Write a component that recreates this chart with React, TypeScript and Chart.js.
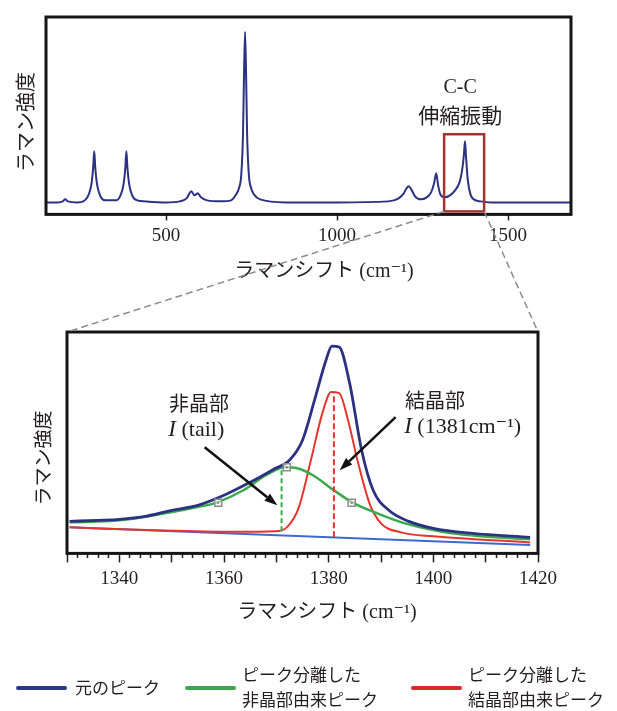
import { useEffect, useRef } from 'react';
import { Chart, registerables } from 'chart.js';

Chart.register(...registerables);

const SERIF = '"Liberation Serif", "DejaVu Serif", "Noto Sans CJK JP", serif';
const JP = '"Noto Sans CJK JP", "Liberation Serif", sans-serif';
const INK = '#231f20';
const NAVY = '#2c3282';
const GREEN = '#3aab4a';
const RED = '#e5352c';
const BLUE = '#3c6ad0';
const GREY = '#8c8c8c';

// ---- Overview spectrum (Raman shift in cm-1, relative intensity) ----
const overviewShift = [
  149, 185, 198, 205, 213, 240, 258, 270, 278, 283, 287, 290, 293, 297, 302, 310,
  322, 345, 356, 364, 372, 377, 381, 384, 387, 391, 396, 404, 416, 440, 500, 540,
  560, 574, 583, 593, 602, 620, 660, 690, 705, 714, 720, 725, 728, 731, 734, 737,
  742, 748, 757, 775, 850, 1000, 1150, 1180, 1195, 1203, 1210, 1217, 1228, 1245,
  1262, 1275, 1283, 1290, 1295, 1302, 1315, 1330, 1345, 1358, 1366, 1371, 1374,
  1377, 1382, 1390, 1400, 1420, 1450, 1684,
];
const overviewIntensity = [
  12, 12, 13, 15, 13, 12, 13, 17, 24, 33, 47, 63, 47, 33, 24, 17,
  14, 14, 14, 17, 24, 33, 47, 63, 47, 33, 24, 17, 14, 13, 12, 13,
  16, 23, 19, 21, 17, 14, 13, 14, 20, 27, 40, 80, 140, 182, 140, 80,
  40, 27, 20, 15, 12, 12, 13, 16, 21, 26, 28, 25, 18, 15,
  17, 22, 30, 41, 30, 20, 17, 19, 24, 32, 45, 60, 73,
  58, 35, 20, 15, 13, 12, 12,
];
const overviewRange = [149, 1684];
const overviewTicks = [500, 1000, 1500];
// C-C stretching window marked on the overview
const ccWindowShift = [1313, 1430];
const ccWindowIntensity = [3, 80];
const ccLabelShift = 1360;

// ---- C-C band detail ----
const detailRange = [1330, 1420];
const detailLabelTicks = [1340, 1360, 1380, 1400, 1420];

const measuredShift = [
  1330.5, 1336, 1340, 1345, 1350, 1355, 1360, 1365, 1369.5, 1372.5, 1375, 1377.3,
  1379.5, 1380.6, 1382, 1384, 1386.3, 1388.5, 1391.5, 1395.3, 1400, 1407.5, 1418.5,
];
const measuredIntensity = [
  31, 32, 33, 36, 42, 47, 57, 70, 83, 92, 112, 152,
  192, 206, 205, 169, 102, 62, 42, 31, 24, 19, 15,
];

const amorphousShift = [
  1330.5, 1340, 1348.7, 1354.7, 1358.7, 1363.7, 1368, 1371.6, 1374, 1377, 1381,
  1384.5, 1389.3, 1394.6, 1403.6, 1418.5,
];
const amorphousIntensity = [
  30, 32, 39, 45, 50, 62, 77, 85, 84, 77, 62,
  50, 39, 29, 19, 13,
];

const crystallineShift = [
  1330.5, 1347, 1362, 1369.7, 1372, 1374.3, 1376.6, 1378.8, 1380.5, 1382, 1383.7,
  1385.5, 1387.8, 1390, 1393.8, 1400, 1418.5,
];
const crystallineIntensity = [
  25, 22, 20.5, 21, 25, 45, 92, 139, 160, 159, 132,
  92, 49, 29, 20, 16, 10,
];

const baselineShift = [1330.5, 1418.5];
const baselineIntensity = [25, 7.5];

// I(tail) and I(1381 cm-1) read-outs
const tailShift = 1371;
const tailLevels = [21, 85];
const peakShift = 1381;
const peakLevels = [15, 160];

// fit control points on the amorphous component
const fitMarkerShift = [1358.9, 1372, 1384.4];
const fitMarkerIntensity = [49.5, 85, 49.5];

// arrow tails / heads in (shift, intensity)
const tailArrow = [[1356.3, 105], [1370.2, 47]];
const peakArrow = [[1392.8, 135], [1382.1, 82]];

const seriesLabels = ['元のピーク', 'ピーク分離した\n非晶部由来ピーク', 'ピーク分離した\n結晶部由来ピーク'];
const seriesColors = ['#2b3788', '#3ea650', '#d72a2f'];

const pts = (xs: number[], ys: number[]) => xs.map((x, i) => ({ x, y: ys[i] }));

function drawMixed(ctx: CanvasRenderingContext2D, parts: [string, string][], cx: number, cy: number) {
  let total = 0;
  const widths = parts.map(([t, f]) => {
    ctx.font = f;
    const w = ctx.measureText(t).width;
    total += w;
    return w;
  });
  let x = cx - total / 2;
  ctx.textAlign = 'left';
  parts.forEach(([t, f], i) => {
    ctx.font = f;
    ctx.fillText(t, x, cy);
    x += widths[i];
  });
  ctx.textAlign = 'center';
}

function drawArrow(ctx: CanvasRenderingContext2D, x1: number, y1: number, x2: number, y2: number) {
  const ang = Math.atan2(y2 - y1, x2 - x1);
  const head = 13;
  const half = 4.5;
  const bx = x2 - head * Math.cos(ang);
  const by = y2 - head * Math.sin(ang);
  ctx.strokeStyle = '#111';
  ctx.fillStyle = '#111';
  ctx.lineWidth = 2.5;
  ctx.beginPath();
  ctx.moveTo(x1, y1);
  ctx.lineTo(bx, by);
  ctx.stroke();
  ctx.beginPath();
  ctx.moveTo(x2, y2);
  ctx.lineTo(bx + half * Math.sin(ang), by - half * Math.cos(ang));
  ctx.lineTo(bx - half * Math.sin(ang), by + half * Math.cos(ang));
  ctx.closePath();
  ctx.fill();
}

function frame(chart: Chart) {
  const { ctx, chartArea: a } = chart;
  ctx.strokeStyle = '#151515';
  ctx.lineWidth = 3;
  ctx.strokeRect(a.left, a.top, a.right - a.left, a.bottom - a.top);
}

function verticalTitle(ctx: CanvasRenderingContext2D, text: string, x: number, y: number, font: string) {
  ctx.save();
  ctx.translate(x, y);
  ctx.rotate(-Math.PI / 2);
  ctx.font = font;
  ctx.fillStyle = INK;
  ctx.textAlign = 'center';
  ctx.textBaseline = 'middle';
  ctx.fillText(text, 0, 0);
  ctx.restore();
}

const overviewDecor = {
  id: 'overviewDecor',
  afterDraw(chart: Chart) {
    const { ctx } = chart;
    const x = chart.scales.x;
    const y = chart.scales.y;
    ctx.save();
    frame(chart);
    const x0 = x.getPixelForValue(ccWindowShift[0]);
    const x1 = x.getPixelForValue(ccWindowShift[1]);
    const y0 = y.getPixelForValue(ccWindowIntensity[1]);
    const y1 = y.getPixelForValue(ccWindowIntensity[0]);
    ctx.strokeStyle = '#a3332f';
    ctx.lineWidth = 2.5;
    ctx.strokeRect(x0, y0, x1 - x0, y1 - y0);

    const cx = x.getPixelForValue(ccLabelShift);
    ctx.fillStyle = INK;
    ctx.textAlign = 'center';
    ctx.textBaseline = 'middle';
    ctx.font = `20px ${SERIF}`;
    ctx.fillText('C-C', cx, 88);
    ctx.font = `21px ${JP}`;
    ctx.fillText('伸縮振動', cx, 115);

    ctx.font = `20px ${SERIF}`;
    ctx.fillText('ラマンシフト (cm⁻¹)', 324, 272);
    ctx.restore();
    verticalTitle(ctx, 'ラマン強度', 25, 122, `20px ${JP}`);
  },
};

function makeDetailDecor(overview: Chart) {
  return {
    id: 'detailDecor',
    afterDraw(chart: Chart) {
      const { ctx, chartArea: a } = chart;
      const x = chart.scales.x;
      const y = chart.scales.y;
      ctx.save();
      frame(chart);

      // zoom connectors from the overview window to this panel
      const ox = overview.scales.x;
      const oy = overview.scales.y;
      const wl = ox.getPixelForValue(ccWindowShift[0]);
      const wr = ox.getPixelForValue(ccWindowShift[1]);
      const wb = oy.getPixelForValue(ccWindowIntensity[0]);
      ctx.strokeStyle = GREY;
      ctx.lineWidth = 1.5;
      ctx.setLineDash([7, 4]);
      ctx.beginPath();
      ctx.moveTo(wl, wb);
      ctx.lineTo(a.left, a.top);
      ctx.moveTo(wr, wb);
      ctx.lineTo(a.right, a.top);
      ctx.stroke();
      ctx.setLineDash([]);

      drawArrow(ctx, x.getPixelForValue(tailArrow[0][0]), y.getPixelForValue(tailArrow[0][1]),
        x.getPixelForValue(tailArrow[1][0]), y.getPixelForValue(tailArrow[1][1]));
      drawArrow(ctx, x.getPixelForValue(peakArrow[0][0]), y.getPixelForValue(peakArrow[0][1]),
        x.getPixelForValue(peakArrow[1][0]), y.getPixelForValue(peakArrow[1][1]));

      ctx.fillStyle = INK;
      ctx.textAlign = 'center';
      ctx.textBaseline = 'middle';
      ctx.font = `20px ${JP}`;
      ctx.fillText('非晶部', x.getPixelForValue(1355.2), y.getPixelForValue(149));
      ctx.fillText('結晶部', x.getPixelForValue(1400.3), y.getPixelForValue(152));
      drawMixed(ctx, [['I', `italic 23px ${SERIF}`], [' (tail)', `22px ${SERIF}`]],
        x.getPixelForValue(1354.7), y.getPixelForValue(122));
      drawMixed(ctx, [['I', `italic 23px ${SERIF}`], [' (1381cm⁻¹)', `22px ${SERIF}`]],
        x.getPixelForValue(1405.6), y.getPixelForValue(125));

      ctx.font = `20px ${SERIF}`;
      ctx.fillText('ラマンシフト (cm⁻¹)', 327, 613);

      // legend
      const lx = [16, 185, 411];
      const ly = 688;
      seriesLabels.forEach((label, i) => {
        ctx.strokeStyle = seriesColors[i];
        ctx.lineWidth = 4;
        ctx.lineCap = 'round';
        ctx.beginPath();
        ctx.moveTo(lx[i] + 2, ly);
        ctx.lineTo(lx[i] + 49, ly);
        ctx.stroke();
        ctx.fillStyle = INK;
        ctx.textAlign = 'left';
        ctx.font = `17px ${JP}`;
        const lines = label.split('\n');
        const tx = lx[i] + (lines.length > 1 ? 57 : 59);
        lines.forEach((ln, k) => {
          const ty = lines.length > 1 ? ly - 13 + k * 25 : ly;
          ctx.fillText(ln, tx, ty);
        });
      });
      ctx.restore();
      verticalTitle(ctx, 'ラマン強度', 43, 458, `19px ${JP}`);
    },
  };
}

export default function App() {
  const topRef = useRef<HTMLCanvasElement>(null);
  const bottomRef = useRef<HTMLCanvasElement>(null);

  useEffect(() => {
    const overview = new Chart(topRef.current!, {
      type: 'line',
      data: {
        datasets: [
          {
            data: pts(overviewShift, overviewIntensity),
            borderColor: NAVY,
            borderWidth: 2,
            pointRadius: 0,
            cubicInterpolationMode: 'monotone',
            fill: false,
          },
        ],
      },
      options: {
        responsive: false,
        animation: false,
        devicePixelRatio: 1,
        events: [],
        layout: { padding: { left: 46, right: 46, top: 17, bottom: 458.6 } },
        plugins: { legend: { display: false }, tooltip: { enabled: false } },
        scales: {
          x: {
            type: 'linear',
            min: overviewRange[0],
            max: overviewRange[1],
            afterBuildTicks: (s: any) => {
              s.ticks = overviewTicks.map((value) => ({ value }));
            },
            grid: { drawOnChartArea: false, tickLength: 6, tickWidth: 1.5, tickColor: INK },
            border: { display: false },
            ticks: {
              padding: 4.6,
              color: INK,
              autoSkip: false,
              maxRotation: 0,
              font: { family: SERIF, size: 19 },
              callback: (v: any) => String(v),
            },
          },
          y: { display: false, min: 0, max: 197 },
        },
      },
      plugins: [overviewDecor],
    } as any);

    const detailTicks: number[] = [];
    for (let v = detailRange[0]; v <= detailRange[1]; v += 2) detailTicks.push(v);

    const detail = new Chart(bottomRef.current!, {
      type: 'line',
      data: {
        datasets: [
          {
            label: 'markers',
            data: pts(fitMarkerShift, fitMarkerIntensity),
            showLine: false,
            pointStyle: 'rect',
            pointRadius: 5,
            pointBorderWidth: 1.5,
            pointBorderColor: GREY,
            pointBackgroundColor: 'rgba(255,255,255,0.55)',
            order: -2,
          },
          {
            label: 'marker centres',
            data: pts(fitMarkerShift, fitMarkerIntensity),
            showLine: false,
            pointRadius: 1.2,
            pointBorderWidth: 0,
            pointBackgroundColor: GREY,
            order: -3,
          },
          {
            label: 'I(tail)',
            data: pts([tailShift, tailShift], tailLevels),
            borderColor: GREEN,
            borderWidth: 2,
            borderDash: [5, 3],
            pointRadius: 0,
            order: 0,
          },
          {
            label: 'I(1381)',
            data: pts([peakShift, peakShift], peakLevels),
            borderColor: RED,
            borderWidth: 2,
            borderDash: [6, 3],
            pointRadius: 0,
            order: 0,
          },
          {
            label: seriesLabels[0],
            data: pts(measuredShift, measuredIntensity),
            borderColor: NAVY,
            borderWidth: 2.8,
            pointRadius: 0,
            cubicInterpolationMode: 'monotone',
            order: 1,
          },
          {
            label: seriesLabels[1],
            data: pts(amorphousShift, amorphousIntensity),
            borderColor: GREEN,
            borderWidth: 2.5,
            pointRadius: 0,
            cubicInterpolationMode: 'monotone',
            order: 2,
          },
          {
            label: seriesLabels[2],
            data: pts(crystallineShift, crystallineIntensity),
            borderColor: RED,
            borderWidth: 2,
            pointRadius: 0,
            cubicInterpolationMode: 'monotone',
            order: 3,
          },
          {
            label: 'baseline',
            data: pts(baselineShift, baselineIntensity),
            borderColor: BLUE,
            borderWidth: 2,
            pointRadius: 0,
            order: 4,
          },
        ],
      },
      options: {
        responsive: false,
        animation: false,
        devicePixelRatio: 1,
        events: [],
        layout: { padding: { left: 67, right: 79, top: 332, bottom: 114.6 } },
        plugins: { legend: { display: false }, tooltip: { enabled: false } },
        scales: {
          x: {
            type: 'linear',
            min: detailRange[0],
            max: detailRange[1],
            afterBuildTicks: (s: any) => {
              s.ticks = detailTicks.map((value) => ({ value }));
            },
            grid: {
              drawOnChartArea: false,
              tickLength: 9,
              tickWidth: 1.5,
              tickColor: INK,
              tickBorderDash: (c: any) => (c.tick && c.tick.value % 10 === 0 ? [] : [5, 20]),
            },
            border: { display: false },
            ticks: {
              padding: 5.6,
              color: INK,
              autoSkip: false,
              maxRotation: 0,
              font: { family: SERIF, size: 19 },
              callback: (v: any) => (detailLabelTicks.includes(Number(v)) ? String(v) : ''),
            },
          },
          y: { display: false, min: -1, max: 220 },
        },
      },
      plugins: [makeDetailDecor(overview)],
    } as any);

    return () => {
      detail.destroy();
      overview.destroy();
    };
  }, []);

  return (
    <div style={{ position: 'absolute', left: 0, top: 0, width: 617, height: 711, background: '#fff' }}>
      <canvas ref={topRef} width={617} height={711} style={{ position: 'absolute', left: 0, top: 0 }} />
      <canvas ref={bottomRef} width={617} height={711} style={{ position: 'absolute', left: 0, top: 0 }} />
    </div>
  );
}
